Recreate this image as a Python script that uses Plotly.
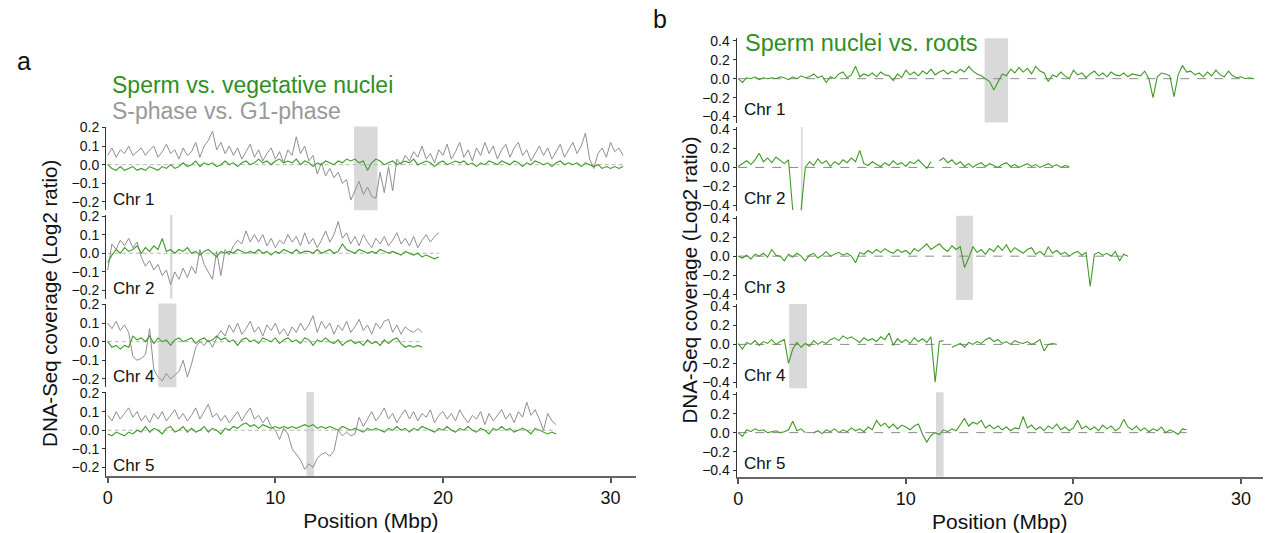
import plotly.graph_objects as go

# ---------------- data (Log2 ratio per 0.25 Mbp bin) ----------------
BIN_MBP = 0.25

# Panel a: S-phase vs G1-phase (gray) and sperm vs vegetative nuclei (green)
a_chr_names = ["Chr 1", "Chr 2", "Chr 4", "Chr 5"]
a_centromeres = [(14.7, 16.1), (3.72, 3.86), (3.02, 4.1), (11.85, 12.3)]

a_sphase_chr1 = [
    0.05, 0.09, 0.04, 0.08, 0.06, 0.10, 0.05, 0.07, 0.09, 0.05, 0.08, 0.10,
    0.04, 0.07, 0.11, 0.06, 0.08, 0.03, 0.09, 0.05, 0.07, 0.12, 0.04, 0.10,
    0.13, 0.18, 0.08, 0.12, 0.06, 0.10, 0.05, 0.09, 0.03, 0.07, 0.11, 0.04,
    0.08, 0.02, 0.06, 0.09, 0.03, 0.07, 0.01, 0.08, 0.05, 0.15, 0.06, 0.10,
    0.02, 0.05, -0.05, 0.01, -0.06, -0.02, -0.07, -0.04, -0.10, -0.08, -0.19, -0.14,
    -0.09, -0.16, -0.12, -0.17, -0.18, -0.04, -0.15, -0.01, -0.14, 0.03, 0.00, 0.05,
    0.02, 0.07, 0.04, 0.10, 0.03, 0.06, 0.01, 0.08, 0.05, 0.11, 0.03, 0.07,
    0.12, 0.04, 0.08, 0.02, 0.09, 0.05, 0.12, 0.06, 0.10, 0.03, 0.08, 0.11,
    0.04, 0.09, 0.12, 0.05, 0.08, 0.02, 0.06, 0.10, 0.05, 0.09, 0.03, 0.07,
    0.11, 0.04, 0.08, 0.12, 0.06, 0.10, 0.17, 0.03, -0.02, 0.06, 0.09, 0.04,
    0.12, 0.07, 0.09, 0.05,
]
a_sperm_chr1 = [
    0.00, -0.02, -0.03, -0.01, -0.03, -0.02, -0.01, -0.03, -0.02, -0.03, -0.01, -0.02,
    -0.03, -0.01, -0.02, 0.00, -0.02, -0.01, 0.01, -0.01, 0.00, 0.02, -0.01, 0.01,
    0.00, 0.01, -0.01, 0.00, 0.02, 0.00, 0.01, -0.01, 0.01, 0.02, 0.00, 0.01,
    0.03, 0.01, 0.02, 0.00, 0.02, 0.03, 0.01, 0.02, 0.01, 0.03, 0.00, 0.02,
    0.01, -0.01, 0.01, 0.00, 0.02, 0.01, 0.00, 0.02, 0.01, 0.03, 0.02, 0.03,
    0.01, 0.02, -0.03, 0.01, 0.03, 0.02, 0.00, 0.01, 0.02, 0.00, 0.01, 0.02,
    0.01, 0.03, 0.00, 0.01, 0.02, 0.01, -0.01, 0.01, 0.02, 0.00, 0.01, 0.02,
    0.01, 0.02, 0.00, 0.01, -0.01, 0.01, 0.00, 0.02, 0.01, 0.00, 0.02, 0.01,
    0.00, 0.02, 0.01, -0.01, 0.01, 0.00, 0.02, 0.01, 0.00, 0.01, -0.01, 0.01,
    0.02, 0.00, 0.01, 0.00, 0.01, -0.01, 0.01, 0.00, -0.01, 0.00, -0.02, -0.01,
    -0.02, -0.01, -0.02, -0.01,
]
a_sphase_chr2 = [
    -0.09, 0.05, 0.02, 0.07, 0.04, 0.08, 0.03, 0.06, -0.02, -0.07, -0.04, -0.09,
    -0.06, -0.12, -0.09, -0.17, -0.10, -0.14, -0.08, -0.13, -0.07, -0.11, 0.02, -0.06,
    -0.10, -0.14, 0.01, -0.12, 0.02, -0.01, 0.04, 0.07, 0.05, 0.12, 0.06, 0.10,
    0.06, 0.10, 0.04, 0.08, 0.03, 0.07, 0.05, 0.10, 0.06, 0.09, 0.04, 0.11,
    0.05, 0.08, 0.03, 0.07, 0.12, 0.06, 0.10, 0.17, 0.08, 0.11, 0.05, 0.09,
    0.04, 0.10, 0.06, 0.03, 0.08, 0.05, 0.09, 0.04, 0.07, 0.11, 0.05, 0.08,
    0.04, 0.09, 0.03, 0.07, 0.10, 0.06, 0.09, 0.11,
]
a_sperm_chr2 = [
    -0.05, -0.01, 0.02, 0.00, 0.03, 0.01, 0.02, 0.04, 0.00, 0.03, 0.01, 0.04,
    0.02, 0.08, 0.01, 0.02, 0.00, 0.02, 0.01, 0.03, 0.00, 0.01, -0.01, 0.01,
    0.02, 0.00, -0.02, 0.01, 0.00, 0.01, 0.00, 0.02, 0.01, 0.00, 0.01, 0.00,
    0.02, 0.00, 0.01, -0.01, 0.01, 0.00, 0.02, 0.01, 0.00, 0.02, 0.00, 0.01,
    0.01, 0.00, 0.02, 0.00, 0.01, 0.02, 0.00, 0.01, 0.05, 0.02, 0.01, 0.00,
    0.02, 0.01, 0.00, 0.01, 0.00, 0.02, 0.01, 0.00, 0.01, 0.00, -0.01, 0.01,
    0.00, -0.01, 0.00, -0.02, -0.01, -0.02, -0.03, -0.02,
]
a_sphase_chr4 = [
    0.10, 0.07, 0.11, 0.06, 0.09, 0.05, -0.08, -0.10, -0.09, -0.07, 0.07, -0.15,
    -0.19, -0.21, -0.17, -0.20, -0.18, -0.16, -0.10, -0.19, -0.12, -0.03, 0.00, -0.02,
    0.01, -0.03, 0.02, 0.06, 0.03, 0.09, 0.05, 0.10, 0.04, 0.07, 0.11, 0.05,
    0.08, 0.03, 0.09, 0.06, 0.10, 0.04, 0.07, 0.03, 0.08, 0.05, 0.10, 0.06,
    0.09, 0.14, 0.05, 0.11, 0.07, 0.10, 0.04, 0.09, 0.06, 0.11, 0.05, 0.08,
    0.12, 0.06, 0.09, 0.04, 0.10, 0.07, 0.11, 0.12, 0.05, 0.09, 0.04, 0.08,
    0.06, 0.05, 0.07, 0.05,
]
a_sperm_chr4 = [
    0.00, -0.03, -0.02, -0.04, -0.02, -0.03, 0.03, 0.01, 0.02, 0.00, 0.03, -0.01,
    0.02, 0.00, 0.01, -0.02, 0.01, 0.02, 0.00, 0.01, 0.02, -0.01, 0.01, 0.02,
    0.00, 0.01, 0.03, 0.01, 0.02, 0.00, 0.01, -0.02, 0.01, 0.02, 0.00, 0.01,
    -0.01, 0.02, 0.01, 0.00, 0.02, -0.01, 0.01, 0.02, 0.00, 0.01, -0.01, 0.02,
    0.01, -0.02, 0.01, 0.00, 0.02, 0.00, -0.01, 0.01, -0.02, 0.00, 0.01, -0.01,
    0.00, -0.02, 0.01, -0.01, 0.00, -0.02, 0.01, -0.01, 0.01, 0.02, -0.01, -0.03,
    -0.02, -0.03, -0.02, -0.03,
]
a_sphase_chr5 = [
    0.08, 0.05, 0.10, 0.06, 0.09, 0.12, 0.07, 0.10, 0.05, 0.08, 0.04, 0.09,
    0.06, 0.10, 0.05, 0.08, 0.11, 0.06, 0.09, 0.05, 0.08, 0.12, 0.06, 0.10,
    0.14, 0.07, 0.09, 0.05, 0.08, 0.04, 0.07, 0.10, 0.05, 0.09, 0.12, 0.06,
    0.08, 0.04, 0.07, 0.02, 0.00, -0.05, 0.01, -0.02, -0.10, -0.13, -0.16, -0.21,
    -0.18, -0.20, -0.15, -0.13, -0.12, -0.14, -0.11, 0.00, -0.03, -0.01, -0.03, -0.02,
    0.07, 0.02, 0.06, 0.10, 0.05, 0.08, 0.12, 0.06, 0.09, 0.04, 0.08, 0.11,
    0.06, 0.10, 0.05, 0.09, 0.07, 0.11, 0.04, 0.08, 0.10, 0.06, 0.09, 0.05,
    0.11, 0.07, 0.04, 0.08, 0.06, 0.10, 0.03, 0.09, 0.05, 0.08, 0.11, 0.06,
    0.09, 0.04, 0.10, 0.07, 0.15, 0.08, 0.11, 0.06, 0.00, 0.09, 0.05, 0.03,
]
a_sperm_chr5 = [
    -0.02, -0.03, -0.01, -0.02, -0.03, -0.01, -0.02, 0.00, -0.01, 0.02, -0.01, 0.01,
    0.00, -0.02, 0.01, 0.02, -0.01, 0.00, 0.02, -0.01, 0.01, -0.01, 0.00, 0.02,
    -0.01, 0.01, 0.00, -0.02, 0.01, 0.00, 0.02, 0.01, 0.03, 0.04, 0.02, 0.03,
    0.01, 0.03, 0.02, 0.01, 0.02, 0.01, 0.02, 0.01, 0.02, 0.01, 0.02, 0.03,
    0.02, 0.03, 0.01, 0.02, 0.01, 0.02, 0.01, 0.00, 0.02, 0.01, 0.00, 0.01,
    0.00, -0.01, 0.01, 0.00, 0.01, 0.00, -0.01, 0.01, 0.00, 0.02, 0.00, 0.01,
    -0.01, 0.01, 0.00, 0.02, 0.01, 0.00, -0.01, 0.01, 0.00, 0.02, 0.00, -0.01,
    0.01, 0.00, 0.02, 0.00, -0.01, 0.01, 0.00, -0.02, 0.01, 0.00, 0.02, 0.00,
    0.01, -0.01, 0.00, 0.01, 0.00, -0.02, 0.01, 0.00, -0.01, -0.02, -0.01, -0.02,
]

# Panel b: sperm nuclei vs roots (None = no data)
b_chr_names = ["Chr 1", "Chr 2", "Chr 3", "Chr 4", "Chr 5"]
b_centromeres = [(14.7, 16.1), (3.74, 3.84), (13.0, 14.0), (3.04, 4.1), (11.8, 12.25)]

b_sperm_chr1 = [
    0.00, -0.04, 0.01, 0.00, 0.02, -0.01, 0.01, 0.00, 0.01, 0.00, 0.02, 0.01,
    -0.01, 0.02, 0.00, 0.03, 0.01, 0.02, 0.05, 0.01, 0.03, -0.04, 0.02, 0.00,
    0.05, 0.07, 0.01, 0.04, 0.13, 0.02, 0.05, 0.03, 0.06, 0.02, 0.07, 0.04,
    0.03, -0.02, 0.05, 0.01, 0.09, 0.04, 0.07, 0.03, 0.08, 0.05, 0.10, 0.04,
    0.07, 0.09, 0.05, 0.08, 0.06, 0.10, 0.07, 0.13, 0.08, 0.05, 0.03, 0.00,
    -0.03, -0.12, -0.04, 0.05, 0.03, 0.10, 0.06, 0.12, 0.07, 0.11, 0.05, 0.13,
    0.08, 0.06, -0.03, 0.04, 0.02, 0.07, 0.03, 0.00, 0.09, 0.04, 0.06, 0.01,
    0.05, 0.08, 0.03, 0.06, 0.02, 0.07, 0.04, 0.03, 0.06, 0.02, 0.05, 0.04,
    0.03, 0.08, 0.00, -0.20, 0.02, 0.06, 0.05, 0.03, -0.19, 0.04, 0.14, 0.07,
    0.08, 0.04, 0.06, 0.02, 0.07, 0.03, 0.09, 0.04, 0.02, 0.08, 0.03, 0.01,
    0.02, 0.00, 0.01, 0.00,
]
b_sperm_chr2 = [
    0.01, 0.04, 0.07, 0.03, 0.08, 0.15, 0.06, 0.10, 0.05, 0.11, 0.07, 0.04,
    0.08, -0.45, None, -0.45, 0.00, 0.06, 0.02, 0.09, 0.04, 0.07, 0.01, 0.06,
    0.03, 0.08, 0.05, 0.10, 0.06, 0.18, 0.04, 0.02, 0.06, 0.03, 0.01, 0.05,
    0.02, 0.07, 0.03, 0.05, 0.01, 0.06, 0.04, 0.08, 0.03, -0.01, 0.06, None,
    0.07, 0.10, 0.05, 0.08, 0.03, 0.06, 0.01, 0.04, 0.00, 0.03, 0.05, 0.01,
    0.04, 0.02, 0.00, 0.03, 0.05, 0.01, 0.03, 0.00, 0.02, 0.04, 0.01, 0.03,
    0.00, 0.02, 0.04, 0.01, 0.03, 0.00, 0.02, 0.01,
]
b_sperm_chr3 = [
    0.00, -0.02, 0.01, -0.03, 0.02, 0.00, 0.03, -0.01, 0.07, 0.01, 0.00, -0.05,
    0.02, -0.01, 0.03, 0.00, -0.05, 0.01, 0.03, -0.02, 0.01, 0.05, 0.00, 0.02,
    0.04, 0.01, 0.03, 0.00, -0.07, 0.04, 0.02, 0.06, 0.03, 0.07, 0.04, 0.08,
    0.05, 0.03, 0.07, 0.04, 0.06, 0.02, 0.08, 0.05, 0.09, 0.13, 0.07, 0.10,
    0.13, 0.08, 0.05, 0.11, 0.07, 0.10, -0.12, -0.02, 0.10, 0.04, 0.07, 0.02,
    0.08, 0.05, 0.11, 0.06, 0.12, 0.04, 0.09, 0.06, 0.03, 0.07, 0.09, 0.02,
    0.05, 0.01, 0.10, 0.03, 0.06, 0.02, 0.04, 0.00, 0.03, 0.05, 0.01, 0.04,
    -0.32, 0.02, 0.04, 0.01, 0.03, 0.00, 0.05, -0.05, 0.02, 0.00,
]
b_sperm_chr4 = [
    0.01, -0.05, 0.02, 0.00, 0.04, -0.01, 0.03, 0.01, 0.05, 0.00, 0.03, 0.05,
    -0.20, -0.05, 0.02, -0.03, 0.01, -0.02, 0.04, 0.00, 0.03, 0.01, 0.05, 0.07,
    0.04, 0.09, 0.06, 0.08, 0.05, 0.02, 0.07, 0.04, 0.06, 0.03, 0.08, 0.05,
    0.12, -0.01, 0.06, 0.02, 0.05, 0.01, 0.07, 0.03, 0.06, 0.02, 0.08, -0.40,
    0.03, 0.04, None, -0.03, -0.01, 0.01, -0.03, 0.02, 0.00, 0.03, 0.01, 0.05,
    0.07, 0.03, 0.05, 0.01, 0.03, 0.00, 0.04, 0.02, 0.01, 0.03, 0.00, 0.02,
    0.05, -0.07, 0.00, 0.01, 0.00,
]
b_sperm_chr5 = [
    0.00, -0.04, 0.03, 0.01, 0.04, 0.02, 0.03, 0.00, 0.01, 0.02, 0.00, 0.01,
    0.03, 0.12, 0.02, 0.04, 0.00, None, 0.00, 0.02, -0.01, 0.03, 0.01, 0.04,
    0.00, 0.03, 0.01, 0.05, 0.02, 0.04, 0.01, 0.06, 0.03, 0.13, 0.07, 0.10,
    0.05, 0.09, 0.04, 0.08, 0.06, 0.03, 0.07, 0.09, -0.02, -0.10, -0.03, 0.00,
    -0.02, 0.03, 0.01, 0.04, 0.02, 0.08, 0.15, 0.07, 0.11, 0.09, 0.13, 0.05,
    0.08, 0.04, 0.07, 0.03, 0.06, 0.02, 0.05, 0.04, 0.17, 0.05, 0.08, 0.03,
    0.06, 0.02, 0.07, 0.04, 0.09, 0.03, 0.06, 0.02, 0.05, 0.13, 0.04, 0.07,
    0.03, 0.06, 0.02, 0.08, 0.04, 0.07, 0.02, 0.05, 0.14, 0.06, 0.03, 0.07,
    0.02, 0.05, 0.01, 0.04, 0.02, 0.06, 0.00, 0.03, 0.01, -0.02, 0.04, 0.03,
]

a_gray = [a_sphase_chr1, a_sphase_chr2, a_sphase_chr4, a_sphase_chr5]
a_green = [a_sperm_chr1, a_sperm_chr2, a_sperm_chr4, a_sperm_chr5]
b_green = [b_sperm_chr1, b_sperm_chr2, b_sperm_chr3, b_sperm_chr4, b_sperm_chr5]

x_ticks = [0, 10, 20, 30]
a_y_ticks = [-0.2, -0.1, 0.0, 0.1, 0.2]
b_y_ticks = [-0.4, -0.2, 0.0, 0.2, 0.4]

# ---------------- styling / layout ----------------
W, H = 1275, 533
FONT = "Arial, Liberation Sans, sans-serif"
GREEN = "#3f9a25"
GREEN_TEXT = "#2f8f1f"
GRAY = "#8e8e8e"
SHADE = "#d9d9d9"

# the captured page comes out slightly squeezed vertically; compensate
Y_SCALE, Y_OFF = 0.986, 6.1


def fx(px):
    return px / W


def fy(py):
    return 1 - ((py - Y_OFF) / Y_SCALE) / H


def positions(vals):
    return [i * BIN_MBP for i in range(len(vals))]


fig = go.Figure()
layout = dict(
    width=W, height=H, margin=dict(l=0, r=0, t=0, b=0),
    paper_bgcolor="white", plot_bgcolor="rgba(0,0,0,0)",
    showlegend=False, font=dict(family=FONT, color="#111"),
)
shapes, annotations = [], []

panels = [
    dict(xname="x", zeros=[164.5, 253.3, 342.0, 430.8], above=38.5, below=45.5,
         rng=[-0.245, 0.205], ticks=a_y_ticks, px0=103.3, px1=634.2, xr=[-0.1, 31.5],
         names=a_chr_names, cents=a_centromeres, first_y=1, label_x=108, label_dy=35,
         zdash="4px,3px", zcolor="#b5b5b5"),
    dict(xname="x2", zeros=[78.0, 167.0, 256.0, 344.5, 433.0], above=40.5, below=44.0,
         rng=[-0.463, 0.426], ticks=b_y_ticks, px0=735.3, px1=1262.8, xr=[-0.1, 31.3],
         names=b_chr_names, cents=b_centromeres, first_y=5, label_x=741, label_dy=31,
         zdash="9px,8px", zcolor="#8a8a8a"),
]

for p_i, p in enumerate(panels):
    n = len(p["zeros"])
    ynames = [f"y{p['first_y'] + k}" if p['first_y'] + k > 1 else "y" for k in range(n)]
    bottom_y = ynames[-1]
    xkey = "xaxis" if p["xname"] == "x" else "xaxis2"
    layout[xkey] = dict(
        domain=[fx(p["px0"]), fx(p["px1"])], anchor=bottom_y, range=p["xr"],
        tickvals=x_ticks, ticks="outside", ticklen=5, tickwidth=1.5, tickcolor="#555",
        showline=True, linecolor="#666", linewidth=2, showgrid=False, zeroline=False,
        tickfont=dict(size=18, family=FONT, color="#111"),
        title=dict(text="Position (Mbp)", font=dict(size=21, family=FONT, color="#111"),
                   standoff=6),
    )
    for k in range(n):
        z = p["zeros"][k]
        yn = ynames[k]
        ykey = "yaxis" if yn == "y" else "yaxis" + yn[1:]
        layout[ykey] = dict(
            domain=[fy(z + p["below"]), fy(z - p["above"])], anchor=p["xname"],
            range=p["rng"], tickvals=p["ticks"], tickformat=".1f",
            ticks="outside", ticklen=3, tickcolor="#333",
            showline=True, linecolor="#333", linewidth=1,
            showgrid=False, zeroline=False,
            tickfont=dict(size=14, family=FONT, color="#111"),
        )
        c0, c1 = p["cents"][k]
        shapes.append(dict(type="rect", xref=p["xname"], yref=f"{yn} domain",
                           x0=c0, x1=c1, y0=0, y1=1, fillcolor=SHADE,
                           line=dict(width=0), layer="below"))
        if p_i == 0:
            gvals = a_gray[k]
            svals = a_green[k]
            end = max(len(gvals), len(svals)) * BIN_MBP - BIN_MBP
        else:
            gvals = None
            svals = b_green[k]
            end = len(svals) * BIN_MBP - BIN_MBP
        shapes.append(dict(type="line", xref=p["xname"], yref=yn, x0=0, x1=end,
                           y0=0, y1=0, layer="below",
                           line=dict(color=p["zcolor"], width=1, dash=p["zdash"])))
        if gvals is not None:
            fig.add_trace(go.Scatter(x=positions(gvals), y=gvals, mode="lines",
                                     line=dict(color=GRAY, width=1),
                                     xaxis=p["xname"], yaxis=yn, hoverinfo="skip"))
        fig.add_trace(go.Scatter(x=positions(svals), y=svals, mode="lines",
                                 line=dict(color=GREEN, width=1.1), connectgaps=False,
                                 xaxis=p["xname"], yaxis=yn, hoverinfo="skip"))
        annotations.append(dict(text=p["names"][k], xref="paper", yref="paper",
                                x=fx(p["label_x"]), y=fy(z + p["label_dy"]),
                                xanchor="left", yanchor="middle", showarrow=False,
                                font=dict(size=17, family=FONT, color="#111")))

extra = [
    dict(text="a", x=fx(12), y=fy(60), xanchor="left", yanchor="middle",
         font=dict(size=25, family=FONT, color="#111")),
    dict(text="b", x=fx(650), y=fy(18), xanchor="left", yanchor="middle",
         font=dict(size=25, family=FONT, color="#111")),
    dict(text="Sperm vs. vegetative nuclei", x=fx(107), y=fy(84), xanchor="left",
         yanchor="middle", font=dict(size=23, family=FONT, color=GREEN_TEXT)),
    dict(text="S-phase vs. G1-phase", x=fx(107), y=fy(110), xanchor="left",
         yanchor="middle", font=dict(size=23, family=FONT, color="#999999")),
    dict(text="Sperm nuclei vs. roots", x=fx(742), y=fy(42), xanchor="left",
         yanchor="middle", font=dict(size=23.5, family=FONT, color=GREEN_TEXT)),
    dict(text="DNA-Seq coverage (Log2 ratio)", x=fx(46), y=fy(303), textangle=-90,
         xanchor="center", yanchor="middle", font=dict(size=20.5, family=FONT, color="#111")),
    dict(text="DNA-Seq coverage (Log2 ratio)", x=fx(688), y=fy(280), textangle=-90,
         xanchor="center", yanchor="middle", font=dict(size=20.5, family=FONT, color="#111")),
]
for an in extra:
    an.update(xref="paper", yref="paper", showarrow=False)
annotations += extra

layout["shapes"] = shapes
layout["annotations"] = annotations
fig.update_layout(**layout)

fig.write_html("out.html", config={"displayModeBar": False},
               post_script="document.body.style.margin='0';")
